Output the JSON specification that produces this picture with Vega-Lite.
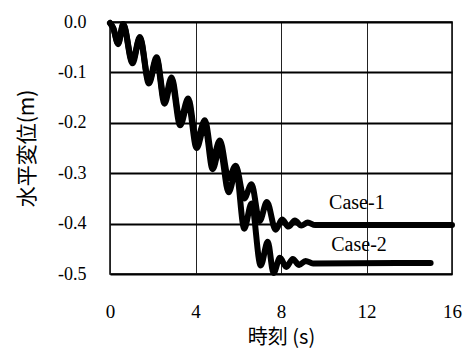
{
  "$schema": "https://vega.github.io/schema/vega-lite/v6.json",
  "width": 342,
  "height": 252,
  "autosize": {"type": "none"},
  "padding": {"left": 110, "top": 22, "right": 13, "bottom": 77},
  "background": "white",
  "config": {
    "view": {"stroke": "black", "strokeWidth": 1.5},
    "axis": {"labelFont": "Liberation Serif", "titleFont": "Noto Sans CJK JP", "labelColor": "black", "titleColor": "black", "domain": false, "ticks": false}
  },
  "datasets": {
    "lines": [
      {"case": "Case-1", "t": 0, "v": -0.002},
      {"case": "Case-1", "t": 0.15, "v": -0.012},
      {"case": "Case-1", "t": 0.38, "v": -0.042},
      {"case": "Case-1", "t": 0.62, "v": -0.004},
      {"case": "Case-1", "t": 1.05, "v": -0.078},
      {"case": "Case-1", "t": 1.4, "v": -0.03},
      {"case": "Case-1", "t": 1.82, "v": -0.118},
      {"case": "Case-1", "t": 2.18, "v": -0.07},
      {"case": "Case-1", "t": 2.55, "v": -0.155},
      {"case": "Case-1", "t": 2.88, "v": -0.11},
      {"case": "Case-1", "t": 3.28, "v": -0.195},
      {"case": "Case-1", "t": 3.66, "v": -0.152},
      {"case": "Case-1", "t": 4.05, "v": -0.235},
      {"case": "Case-1", "t": 4.44, "v": -0.195},
      {"case": "Case-1", "t": 4.8, "v": -0.272},
      {"case": "Case-1", "t": 5.14, "v": -0.235},
      {"case": "Case-1", "t": 5.55, "v": -0.31},
      {"case": "Case-1", "t": 5.88, "v": -0.285},
      {"case": "Case-1", "t": 6.28, "v": -0.35},
      {"case": "Case-1", "t": 6.62, "v": -0.322},
      {"case": "Case-1", "t": 7.0, "v": -0.395},
      {"case": "Case-1", "t": 7.34, "v": -0.357},
      {"case": "Case-1", "t": 7.75, "v": -0.412},
      {"case": "Case-1", "t": 8.05, "v": -0.392},
      {"case": "Case-1", "t": 8.35, "v": -0.406},
      {"case": "Case-1", "t": 8.65, "v": -0.394},
      {"case": "Case-1", "t": 8.95, "v": -0.404},
      {"case": "Case-1", "t": 9.25, "v": -0.398},
      {"case": "Case-1", "t": 9.6, "v": -0.403},
      {"case": "Case-1", "t": 16, "v": -0.403},
      {"case": "Case-2", "t": 0, "v": -0.002},
      {"case": "Case-2", "t": 0.15, "v": -0.012},
      {"case": "Case-2", "t": 0.38, "v": -0.044},
      {"case": "Case-2", "t": 0.62, "v": -0.005},
      {"case": "Case-2", "t": 1.05, "v": -0.082},
      {"case": "Case-2", "t": 1.4, "v": -0.032},
      {"case": "Case-2", "t": 1.82, "v": -0.122},
      {"case": "Case-2", "t": 2.18, "v": -0.074},
      {"case": "Case-2", "t": 2.55, "v": -0.162},
      {"case": "Case-2", "t": 2.88, "v": -0.116},
      {"case": "Case-2", "t": 3.28, "v": -0.205},
      {"case": "Case-2", "t": 3.66, "v": -0.16},
      {"case": "Case-2", "t": 4.05, "v": -0.25},
      {"case": "Case-2", "t": 4.44, "v": -0.205},
      {"case": "Case-2", "t": 4.8, "v": -0.292},
      {"case": "Case-2", "t": 5.14, "v": -0.25},
      {"case": "Case-2", "t": 5.55, "v": -0.338},
      {"case": "Case-2", "t": 5.9, "v": -0.295},
      {"case": "Case-2", "t": 6.28, "v": -0.41},
      {"case": "Case-2", "t": 6.62, "v": -0.36},
      {"case": "Case-2", "t": 7.05, "v": -0.483},
      {"case": "Case-2", "t": 7.38, "v": -0.436},
      {"case": "Case-2", "t": 7.65, "v": -0.498},
      {"case": "Case-2", "t": 7.95, "v": -0.468},
      {"case": "Case-2", "t": 8.25, "v": -0.486},
      {"case": "Case-2", "t": 8.55, "v": -0.47},
      {"case": "Case-2", "t": 8.85, "v": -0.482},
      {"case": "Case-2", "t": 9.15, "v": -0.474},
      {"case": "Case-2", "t": 9.5, "v": -0.479},
      {"case": "Case-2", "t": 15, "v": -0.478}
    ],
    "labels": [
      {"case": "Case-1", "t": 11.55, "v": -0.359},
      {"case": "Case-2", "t": 11.65, "v": -0.442}
    ]
  },
  "layer": [
    {
      "data": {"name": "lines"},
      "mark": {"type": "line", "interpolate": "monotone", "strokeWidth": 6, "strokeJoin": "round", "strokeCap": "round"},
      "encoding": {
        "x": {
          "field": "t", "type": "quantitative",
          "scale": {"domain": [0, 16], "nice": false},
          "axis": {"values": [0, 4, 8, 12, 16], "title": "時刻 (s)", "titleFontSize": 20, "titleFontWeight": "normal", "titlePadding": 6, "labelFontSize": 19, "labelPadding": 28, "grid": true, "gridColor": "#222", "gridWidth": 1, "labelFlush": false}
        },
        "y": {
          "field": "v", "type": "quantitative",
          "scale": {"domain": [-0.5, 0], "nice": false},
          "axis": {"values": [0, -0.1, -0.2, -0.3, -0.4, -0.5], "labelExpr": "replace(format(datum.value, '.1f'), '\u2212', '-')", "title": "水平変位(m)", "titleFontSize": 21, "titleFontWeight": "normal", "titlePadding": 20, "labelFontSize": 18, "labelPadding": 24, "grid": true, "gridColor": "black", "gridWidth": 1.8}
        },
        "color": {"field": "case", "type": "nominal", "scale": {"range": ["black", "black"]}, "legend": null},
        "detail": {"field": "case"}
      }
    },
    {
      "data": {"name": "labels"},
      "mark": {"type": "text", "font": "Liberation Serif", "fontSize": 20, "color": "black"},
      "encoding": {
        "x": {"field": "t", "type": "quantitative"},
        "y": {"field": "v", "type": "quantitative"},
        "text": {"field": "case"}
      }
    }
  ]
}
